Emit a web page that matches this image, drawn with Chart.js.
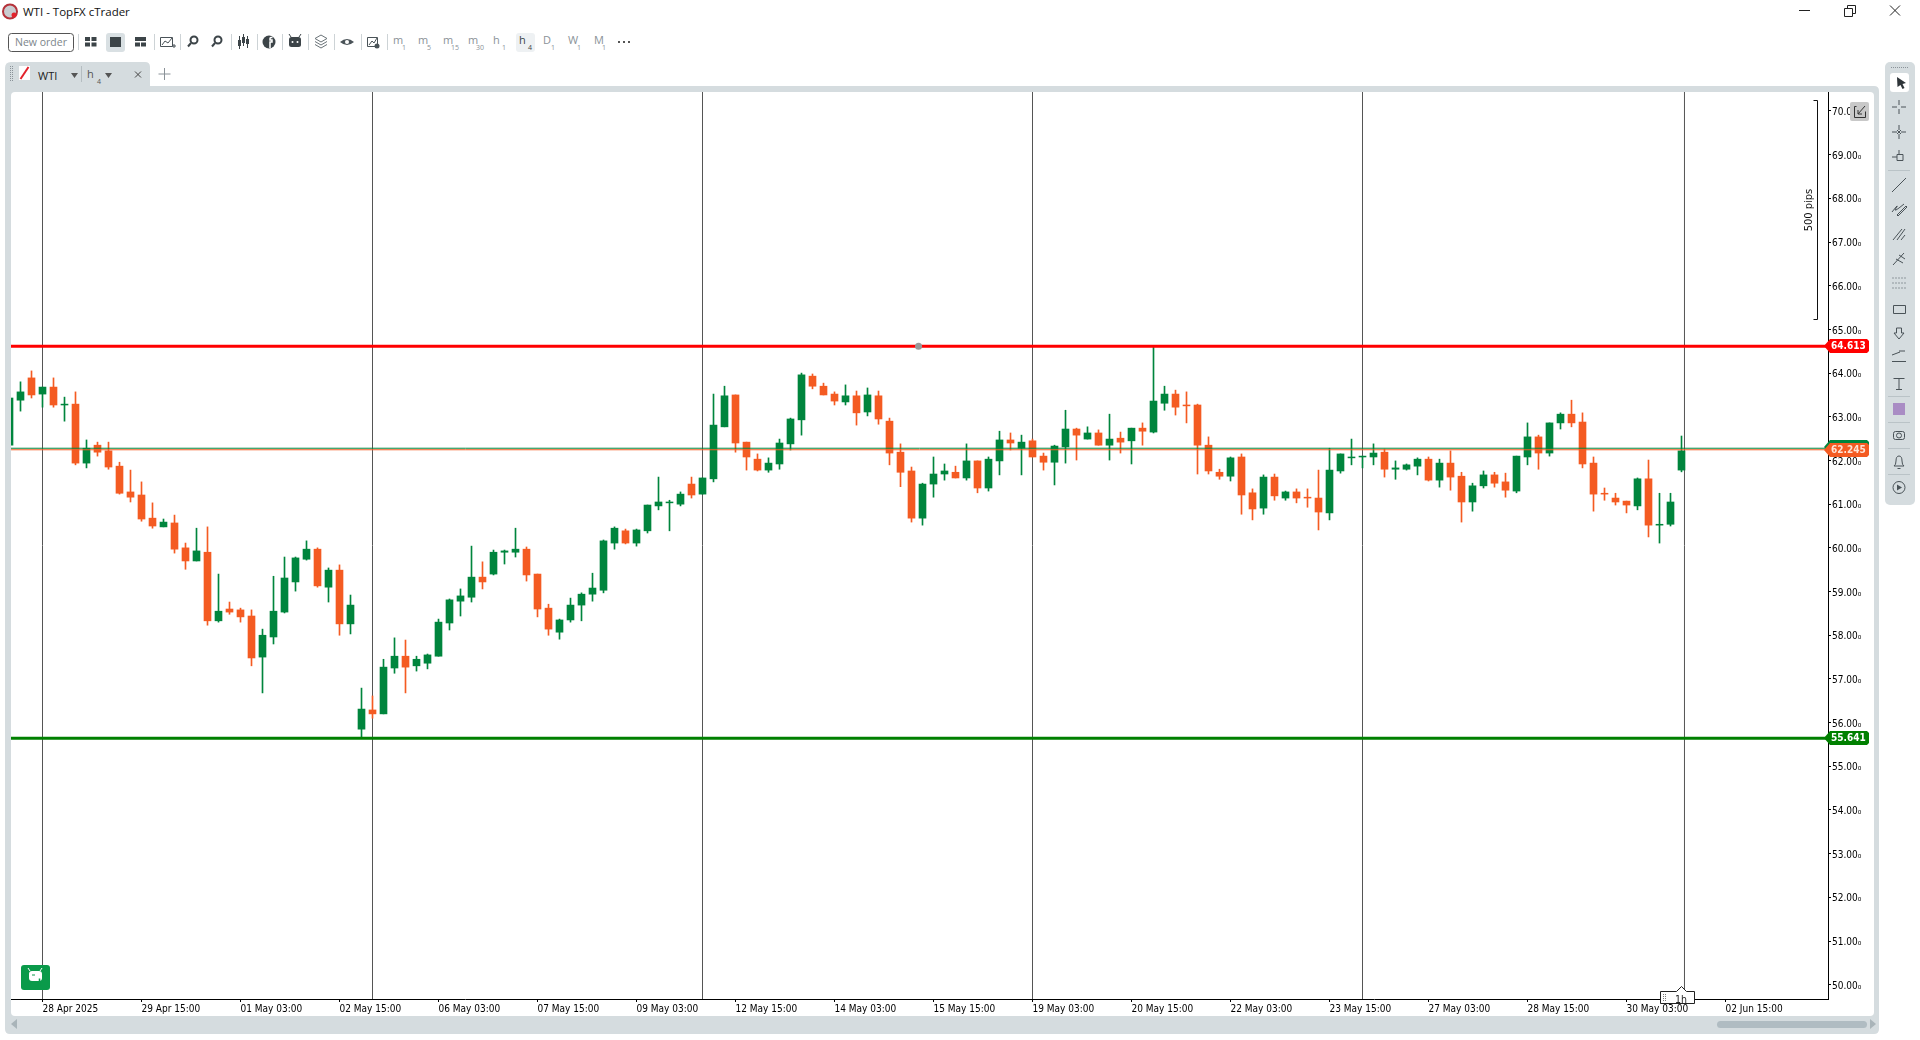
<!DOCTYPE html>
<html>
<head>
<meta charset="utf-8">
<title>WTI - TopFX cTrader</title>
<script src="https://cdn.jsdelivr.net/npm/chart.js@4"></script>
<style>
  html, body { margin: 0; padding: 0; background: #fff; overflow: hidden; }
  svg { position: absolute; left: 0; top: 0; }
  svg text { font-family: "Open Sans", sans-serif; }
  #myChart { position: absolute; left: 11px; top: 92px; }
  #over { pointer-events: none; }
</style>
</head>
<body>
<svg width="1920" height="1040">
  <!-- window title -->
  <circle cx="10" cy="11.5" r="7" fill="#c9ccd0" stroke="#b5323a" stroke-width="2"/>
  <circle cx="14" cy="15" r="2.5" fill="#e3222b"/>
  <text x="23" y="16" font-size="11.5" fill="#111">WTI - TopFX cTrader</text>
  <path d="M1799 10.5h11" stroke="#222"/>
  <path d="M1844.5 8.5h8v8h-8zM1847.5 8.5v-3h8v8h-3" fill="none" stroke="#222"/>
  <path d="M1890 5.5l10 10M1900 5.5l-10 10" stroke="#222"/>
  <!-- toolbar -->
  <rect x="8.5" y="33.5" width="65" height="18" rx="3" fill="#fff" stroke="#555"/>
  <text x="41" y="46" font-size="10.5" fill="#7c858a" text-anchor="middle">New order</text>
  <g stroke="#cdd3d6"><path d="M78.5 34v16M154.5 34v16M180.5 34v16M231.5 34v16M257.5 34v16M282.5 34v16M308.5 34v16M334.5 34v16M361.5 34v16M387.5 34v16"/></g>
  <path d="M85 37h5v4h-5zM91.500 37h5v4h-5zM85 42.500h5v4h-5zM91.500 42.500h5v4h-5z" fill="#3c4448"/>
  <rect x="106" y="33" width="19" height="19" rx="3" fill="#d9e0e3"/>
  <rect x="110" y="37" width="11" height="10" fill="#3c4448"/>
  <path d="M135 37h11v4h-11zM135 42.500h5v4h-5zM141 42.500h5v4h-5z" fill="#3c4448"/>
  <path d="M160.500 37.500h12v9h-12zM162 45l3-4 3 2 4-5" fill="none" stroke="#4a5358"/>
  <path d="M172 46h4M174 44v4" stroke="#4a5358"/>
  <circle cx="194" cy="40" r="3.500" fill="#fff" stroke="#3c4448" stroke-width="2"/><path d="M191 43l-3 3.500" stroke="#3c4448" stroke-width="2"/>
  <circle cx="218" cy="40" r="3.500" fill="#fff" stroke="#3c4448" stroke-width="2"/><path d="M215 43l-3 3.500" stroke="#3c4448" stroke-width="2"/>
  <path d="M239.500 36v13M243.500 34v12M247.500 36v12" stroke="#3c4448"/>
  <path d="M238 40h3v6h-3zM242 37h3v6h-3zM246 39h3v5h-3z" fill="#3c4448"/>
  <circle cx="269" cy="42" r="6.500" fill="#3c4448"/><path d="M270 48v-6h2v-2h-2v-1.500q0-1 1-1h1.500" fill="none" stroke="#fff" stroke-width="1.500"/>
  <rect x="289" y="37" width="12" height="10" rx="2.500" fill="#3c4448"/><path d="M291 37l-2-3M299 37l2-3" stroke="#3c4448"/><circle cx="292.500" cy="42" r="1" fill="#fff"/><circle cx="297.500" cy="42" r="1" fill="#fff"/>
  <path d="M321 35l6 3.500-6 3.500-6-3.500zM315 41.500l6 3.500 6-3.500M315 44.500l6 3.500 6-3.500" fill="none" stroke="#6a7378"/>
  <path d="M340 42q7-6 14 0q-7 6-14 0z" fill="#4a5358"/><circle cx="347" cy="42" r="2" fill="#fff"/>
  <path d="M367.500 37.500h10v9h-10zM369 45l3-4 2 2 3-5" fill="none" stroke="#4a5358"/><circle cx="377" cy="46" r="2.500" fill="#4a5358"/>
  <g font-size="11" fill="#8a9298">
    <text x="393" y="44">m</text><text x="418" y="44">m</text><text x="443" y="44">m</text><text x="468" y="44">m</text>
    <text x="493" y="44">h</text><text x="543" y="44">D</text><text x="568" y="44">W</text><text x="594" y="44">M</text>
  </g>
  <g font-size="7" fill="#8a9298">
    <text x="402" y="50">1</text><text x="427" y="50">5</text><text x="451" y="50">15</text><text x="476" y="50">30</text>
    <text x="502" y="50">1</text><text x="551" y="50">1</text><text x="577" y="50">1</text><text x="602" y="50">1</text>
  </g>
  <rect x="516" y="33" width="19" height="19" rx="3" fill="#eef1f3"/>
  <text x="519" y="44" font-size="11" fill="#3c4448">h</text><text x="528" y="50" font-size="7" fill="#3c4448">4</text>
  <path d="M618 42h2M623 42h2M628 42h2" stroke="#555" stroke-width="2"/>
  <!-- tab and panel -->
  <path d="M5 1029V68q0-6 6-6h134q5 0 5 5v19h1724q5 0 5 5v938q0 5-5 5H10q-5 0-5-5z" fill="#d5dcdf"/>
  <rect x="11" y="92" width="1863" height="924" rx="4" fill="#fff"/>
  <path d="M10.500 66v16M12.500 66v16" stroke="#8a9298" stroke-dasharray="1 1"/>
  <rect x="19" y="66" width="11" height="14" fill="#fff"/><path d="M20.500 79l8-12" stroke="#e3222b" stroke-width="2"/>
  <text x="38" y="80" font-size="11" fill="#222">WTI</text>
  <path d="M71 73h7l-3.500 5zM105 73h7l-3.500 5z" fill="#555"/>
  <path d="M81.500 66v16" stroke="#b5bdc1"/>
  <text x="87" y="78" font-size="11" fill="#555">h</text><text x="97" y="84" font-size="7" fill="#555">4</text>
  <path d="M135 71.500l6 6M141 71.500l-6 6" stroke="#444"/>
  <path d="M164.500 68v12M158.500 74h12" stroke="#8a9298"/>
  <!-- bottom scroll -->
  <path d="M17 1019v10l-6-5z" fill="#a9b4b9"/>
  <rect x="1717" y="1021" width="150" height="7" rx="3.500" fill="#b0bcc2"/>
  <path d="M1870 1019v10l6-5z" fill="#a9b4b9"/>
  <!-- right toolbar -->
  <rect x="1885" y="62" width="30" height="443" rx="5" fill="#d5dcdf"/>
  <path d="M1891 67.500h18" stroke="#8a9298" stroke-dasharray="1 1"/>
  <rect x="1890" y="73" width="19" height="19" rx="3" fill="#fff"/>
  <path d="M1897 77l9 6-3.500 1 2 4-2 1-2-4-3 2z" fill="#2e3438"/>
  <g fill="none" stroke="#4a5358">
    <path d="M1899 100v5M1899 109v5M1892 107h5M1901 107h5"/>
    <path d="M1899 125v5M1899 134v5M1892 132h5M1901 132h5M1897 130l4 4M1901 130l-4 4"/>
    <path d="M1899 150v5M1892 157h5M1897 154.500h6v6h-6z"/>
    <path d="M1892 192l14-14"/>
    <path d="M1892 212q8-10 4-4t8-4M1897 215l9-9 1 1-9 9z"/>
    <path d="M1893 240l9-11M1897 240l8-11M1901 240l4-5"/>
    <path d="M1893 265l11-12M1896 259l7 4M1899 255l6 4"/>
    <path d="M1892.500 278h13M1892.500 283h13M1892.500 288h13" stroke-dasharray="1 2"/>
    <path d="M1893.500 305.500h12v8h-12z"/>
    <path d="M1896.500 328h5v5h2.500l-5 6-5-6h2.500z"/>
    <path d="M1892 361.500h14M1892 355l8-3M1899 351h6"/>
    <path d="M1893.500 378.500h11M1899 378.500v11M1896 389.500h6"/>
    <rect x="1893.500" y="431.500" width="11" height="8" rx="2"/><circle cx="1899" cy="435.500" r="2.500"/>
    <path d="M1894 466q2-1 2-5q0-5 3-5t3 5q0 4 2 5zM1897.500 468.500h3"/>
    <circle cx="1899" cy="487.500" r="6"/>
  </g>
  <path d="M1897 484.500l5 3-5 3z" fill="#4a5358"/>
  <rect x="1893" y="403" width="12" height="12" fill="#a98cc4"/>
  <path d="M1888 170.500h22M1888 396.500h22M1888 422.500h22M1888 448.500h22M1888 474.500h22" stroke="#bac3c7"/>
</svg>
<canvas id="myChart" width="1863" height="924" style="width:1863px;height:924px"></canvas>
<svg id="over" width="1920" height="1040">
  <rect x="1850" y="102" width="19" height="19" rx="2" fill="#c8c8c8"/>
  <path d="M1856.500 106.500h-2v11h11v-6M1858 114l7-8M1858 110v4h4" fill="none" stroke="#333"/>
  <rect x="21" y="965" width="29" height="25" rx="3" fill="#0a9a4a"/>
  <path d="M30 971l-2-3M40 971l2-3" stroke="#fff"/>
  <rect x="29" y="971" width="13" height="10" rx="3" fill="#fff"/>
  <path d="M32 975h3" stroke="#0a9a4a"/><path d="M36 982h7M39.500 978.500v7" stroke="#0a9a4a" stroke-width="1.500"/>
  <path d="M1660.500 991.500h16l5-5 5 5h8v12h-34z" fill="#fff" stroke="#222"/>
  <path d="M1663.500 994v7M1665.500 994v7" stroke="#777" stroke-dasharray="1 1"/>
  <text x="1681" y="1002.500" font-size="10.500" fill="#222" text-anchor="middle" style="font-family:'DejaVu Sans Condensed','DejaVu Sans'">1h</text>
</svg>

<script>
// Candles, 4h bars
const opens = [
  62.35, 63.38, 63.89, 63.52, 63.68, 63.27, 63.29, 61.94, 62.35, 62.22,
  61.87, 61.28, 61.21, 60.68, 60.48, 60.57, 60.00, 59.70, 59.90, 58.33,
  58.60, 58.58, 58.44, 57.50, 57.96, 58.53, 59.22, 59.74, 59.97, 59.10,
  59.49, 58.26, 55.85, 56.29, 56.20, 57.25, 57.52, 57.30, 57.36, 57.52,
  58.28, 58.78, 58.87, 59.33, 59.40, 59.90, 59.90, 59.97, 59.40, 58.62,
  58.07, 58.35, 58.69, 58.94, 59.03, 60.11, 60.39, 60.11, 60.39, 60.96,
  61.03, 61.00, 61.46, 61.23, 61.58, 62.77, 63.50, 62.42, 62.03, 61.78,
  61.92, 62.38, 62.93, 63.93, 63.70, 63.52, 63.34, 63.48, 63.11, 63.48,
  62.90, 62.19, 61.76, 60.68, 61.46, 61.69, 61.73, 61.60, 61.99, 61.37,
  61.99, 62.47, 62.28, 62.45, 62.10, 61.96, 62.31, 62.72, 62.49, 62.63,
  62.35, 62.51, 62.45, 62.74, 62.65, 63.31, 63.52, 63.27, 63.27, 62.35,
  61.73, 61.64, 62.08, 61.26, 60.91, 61.62, 61.14, 61.28, 61.16, 61.14,
  60.80, 61.76, 62.06, 62.08, 62.08, 62.19, 61.80, 61.80, 61.87, 62.03,
  61.55, 61.94, 61.64, 61.05, 61.42, 61.67, 61.51, 61.30, 62.08, 62.54,
  62.17, 62.86, 63.06, 62.88, 61.94, 61.25, 61.14, 61.07, 60.96, 61.58,
  60.52, 60.54, 61.78,
];
const closes = [
  63.43, 63.57, 63.50, 63.68, 63.27, 63.29, 61.94, 62.28, 62.19, 61.85,
  61.25, 61.16, 60.66, 60.50, 60.59, 59.97, 59.70, 59.93, 58.33, 58.55,
  58.53, 58.42, 57.48, 58.00, 58.55, 59.31, 59.77, 59.97, 59.13, 59.49,
  58.26, 58.69, 56.31, 56.20, 57.27, 57.52, 57.27, 57.45, 57.55, 58.30,
  58.81, 58.90, 59.33, 59.22, 59.90, 59.93, 59.97, 59.38, 58.60, 58.14,
  58.35, 58.69, 58.94, 59.08, 60.16, 60.45, 60.11, 60.41, 60.98, 61.05,
  61.05, 61.23, 61.21, 61.60, 62.81, 63.48, 62.40, 62.08, 61.78, 61.94,
  62.40, 62.95, 63.96, 63.70, 63.50, 63.36, 63.48, 63.09, 63.50, 62.95,
  62.17, 61.73, 60.68, 61.46, 61.69, 61.76, 61.60, 61.99, 61.37, 62.03,
  62.47, 62.40, 62.42, 62.08, 61.96, 62.33, 62.72, 62.58, 62.63, 62.35,
  62.49, 62.42, 62.74, 62.67, 63.36, 63.52, 63.22, 63.25, 62.35, 61.76,
  61.64, 62.06, 61.21, 60.89, 61.62, 61.19, 61.28, 61.14, 61.14, 60.82,
  61.78, 62.15, 62.08, 62.10, 62.17, 61.80, 61.83, 61.90, 62.03, 61.55,
  61.94, 61.62, 61.05, 61.42, 61.67, 61.48, 61.32, 62.10, 62.54, 62.17,
  62.86, 63.06, 62.86, 61.92, 61.23, 61.23, 61.05, 60.98, 61.58, 60.52,
  60.54, 61.05, 62.22,
];
const highs = [
  63.43, 63.80, 64.05, 63.68, 63.89, 63.45, 63.57, 62.47, 62.42, 62.42,
  61.96, 61.78, 61.51, 61.03, 60.66, 60.75, 60.11, 60.45, 60.48, 59.40,
  58.76, 58.62, 58.58, 58.14, 59.35, 59.79, 59.79, 60.16, 60.00, 59.54,
  59.61, 58.92, 56.79, 56.61, 57.45, 57.94, 57.89, 57.52, 57.57, 58.37,
  58.83, 59.06, 60.04, 59.68, 59.95, 59.95, 60.45, 60.02, 59.40, 58.71,
  58.37, 58.85, 58.97, 59.42, 60.18, 60.48, 60.43, 60.43, 60.98, 61.62,
  61.09, 61.28, 61.62, 61.60, 63.52, 63.70, 63.50, 62.42, 62.15, 62.06,
  62.49, 62.97, 64.00, 63.98, 63.77, 63.57, 63.73, 63.59, 63.66, 63.59,
  62.97, 62.38, 61.85, 61.48, 62.08, 61.92, 61.87, 62.38, 61.99, 62.08,
  62.67, 62.63, 62.58, 62.49, 62.17, 62.35, 63.15, 62.74, 62.77, 62.70,
  63.06, 62.65, 62.74, 62.86, 64.60, 63.70, 63.61, 63.57, 63.29, 62.54,
  61.80, 62.08, 62.15, 61.35, 61.67, 61.69, 61.30, 61.35, 61.35, 61.78,
  62.28, 62.15, 62.49, 62.10, 62.38, 62.26, 61.99, 61.92, 62.06, 62.08,
  62.03, 62.22, 61.73, 61.48, 61.76, 61.73, 61.71, 62.10, 62.86, 62.58,
  62.86, 63.09, 63.38, 63.09, 62.08, 61.37, 61.25, 61.07, 61.60, 62.01,
  61.25, 61.25, 62.56,
];
const lows = [
  62.35, 63.13, 63.43, 63.22, 63.22, 62.90, 61.90, 61.83, 62.10, 61.80,
  61.23, 61.05, 60.61, 60.45, 60.48, 59.88, 59.51, 59.70, 58.23, 58.30,
  58.48, 58.30, 57.30, 56.68, 57.80, 58.51, 59.01, 59.72, 59.10, 58.76,
  58.00, 58.03, 55.64, 56.10, 56.20, 57.13, 56.68, 57.18, 57.23, 57.52,
  58.12, 58.44, 58.76, 59.06, 59.38, 59.63, 59.79, 59.24, 58.42, 58.00,
  57.91, 58.30, 58.33, 58.78, 58.97, 59.97, 60.09, 60.04, 60.34, 60.87,
  60.39, 60.96, 61.14, 61.23, 61.51, 62.77, 62.19, 61.78, 61.76, 61.73,
  61.80, 62.24, 62.58, 63.64, 63.50, 63.27, 63.27, 62.81, 63.02, 62.83,
  61.90, 61.40, 60.59, 60.52, 61.16, 61.55, 61.60, 61.55, 61.26, 61.30,
  61.67, 62.24, 61.67, 62.08, 61.78, 61.44, 61.94, 62.01, 62.49, 62.35,
  62.01, 62.17, 61.92, 62.35, 62.63, 63.15, 63.04, 62.86, 61.69, 61.69,
  61.57, 61.53, 60.77, 60.64, 60.77, 61.09, 61.09, 61.03, 60.93, 60.41,
  60.64, 61.71, 61.90, 61.83, 61.90, 61.62, 61.57, 61.78, 61.67, 61.53,
  61.39, 61.32, 60.59, 60.84, 61.37, 61.39, 61.16, 61.26, 61.90, 61.80,
  62.10, 62.72, 62.77, 61.83, 60.84, 61.09, 60.98, 60.80, 60.87, 60.25,
  60.11, 60.50, 61.74,
];

// Axis ticks
const timeTickIndex = [3, 12, 21, 30, 39, 48, 57, 66, 75, 84, 93, 102, 111, 120, 129, 138, 147, 156];
const timeTickLabels = [
  "28 Apr 2025", "29 Apr 15:00", "01 May 03:00", "02 May 15:00", "06 May 03:00", "07 May 15:00",
  "09 May 03:00", "12 May 15:00", "14 May 03:00", "15 May 15:00", "19 May 03:00", "20 May 15:00",
  "22 May 03:00", "23 May 15:00", "27 May 03:00", "28 May 15:00", "30 May 03:00", "02 Jun 15:00",
];
const priceTicks = [50, 51, 52, 53, 54, 55, 56, 57, 58, 59, 60, 61, 62, 63, 64, 65, 66, 67, 68, 69, 70];

// Lines on the chart
const periodLines = [3, 33, 63, 93, 123, 152.27];
const resistance = 64.613;
const support = 55.641;
const bid = 62.245;
const ask = 62.28;
const rulerTop = 70.24;
const rulerBottom = 65.24;
const handleIndex = 82.64;

const GREEN = "#00853d";
const ORANGE = "#f45b22";
const FONT = "'DejaVu Sans Condensed', 'DejaVu Sans', sans-serif";

const xMin = 0.13636;
const xMax = 165.318;
const yMin = 49.674;
const yMax = 70.434;

const candleColor = (i) => (closes[i] >= opens[i] ? GREEN : ORANGE);
const index = opens.map((_, i) => i);

const hLine = (value, color, width) => ({
  type: "line",
  data: [{ x: xMin, y: value }, { x: xMax, y: value }],
  borderColor: color,
  borderWidth: width,
  pointRadius: 0,
  order: 1,
});

const vLines = periodLines.map((v) => ({
  type: "line",
  data: [{ x: v, y: yMin }, { x: v, y: yMax }],
  borderColor: "#555555",
  borderWidth: 1,
  pointRadius: 0,
  order: 5,
}));

// Price tags, ruler and handle are drawn over the axes
const overlays = {
  id: "overlays",
  afterDraw(chart) {
    const { ctx, scales: { x, y } } = chart;
    const tag = (value, text, fill, textColor, dy) => {
      const py = Math.round(y.getPixelForValue(value)) + dy;
      const l = x.right;
      ctx.fillStyle = fill;
      ctx.beginPath();
      ctx.moveTo(l - 4, py);
      ctx.lineTo(l + 2, py - 7);
      ctx.lineTo(l + 39, py - 7);
      ctx.lineTo(l + 41, py - 5);
      ctx.lineTo(l + 41, py + 5);
      ctx.lineTo(l + 39, py + 7);
      ctx.lineTo(l + 2, py + 7);
      ctx.closePath();
      ctx.fill();
      if (text) {
        ctx.fillStyle = textColor;
        ctx.font = "bold 10px " + FONT;
        ctx.textAlign = "left";
        ctx.textBaseline = "middle";
        ctx.fillText(text, l + 3, py + 0.5);
      }
    };
    ctx.save();
    tag(resistance, resistance.toFixed(3), "#ff0000", "#ffffff", 0);
    tag(support, support.toFixed(3), "#008000", "#ffffff", 0);
    tag(ask, "", GREEN, "#fff", -1);
    tag(bid, bid.toFixed(3), ORANGE, "#ffe3d6", 0);

    // 500 pips ruler
    const top = Math.round(y.getPixelForValue(rulerTop)) + 0.5;
    const bottom = Math.round(y.getPixelForValue(rulerBottom)) + 0.5;
    const rx = x.right - 10.5;
    ctx.strokeStyle = "#111";
    ctx.lineWidth = 1;
    ctx.beginPath();
    ctx.moveTo(rx - 4, top);
    ctx.lineTo(rx, top);
    ctx.lineTo(rx, bottom);
    ctx.lineTo(rx - 4, bottom);
    ctx.stroke();
    ctx.translate(rx - 8, (top + bottom) / 2);
    ctx.rotate(-Math.PI / 2);
    ctx.fillStyle = "#111";
    ctx.font = "11px " + FONT;
    ctx.textAlign = "center";
    ctx.textBaseline = "middle";
    ctx.fillText("500 pips", 0, 0);
    ctx.restore();

    // drag handle on the red line
    ctx.fillStyle = "#999999";
    ctx.beginPath();
    ctx.arc(x.getPixelForValue(handleIndex), y.getPixelForValue(resistance), 3.5, 0, Math.PI * 2);
    ctx.fill();
  },
};

const noPadding = (scale) => {
  scale.paddingLeft = scale.paddingRight = scale.paddingTop = scale.paddingBottom = 0;
};

const ctx = document.getElementById("myChart").getContext("2d");

new Chart(ctx, {
  type: "bar",
  data: {
    datasets: [
      hLine(resistance, "#ff0000", 3),
      hLine(support, "#008000", 3),
      hLine(ask, GREEN, 1),
      hLine(bid, ORANGE, 1),
      ...vLines,
      {
        // bodies
        data: index.map((i) => ({ x: i, y: [opens[i], closes[i]] })),
        backgroundColor: (c) => candleColor(c.dataIndex),
        barThickness: 7,
        grouped: false,
        order: 2,
      },
      {
        // wicks
        data: index.map((i) => ({ x: i, y: [lows[i], highs[i]] })),
        backgroundColor: (c) => candleColor(c.dataIndex),
        barThickness: 1,
        grouped: false,
        order: 3,
      },
    ],
  },
  options: {
    responsive: false,
    animation: false,
    devicePixelRatio: 1,
    layout: { padding: 0, autoPadding: false },
    plugins: { legend: { display: false }, tooltip: { enabled: false } },
    scales: {
      x: {
        type: "linear",
        offset: false,
        min: xMin,
        max: xMax,
        afterBuildTicks: (scale) => { scale.ticks = timeTickIndex.map((v) => ({ value: v })); },
        afterFit: (scale) => { scale.height = 17; noPadding(scale); },
        ticks: {
          autoSkip: false,
          maxRotation: 0,
          align: "start",
          padding: 1,
          color: "#000",
          font: { family: FONT, size: 10 },
          callback: (value, i) => timeTickLabels[i],
        },
        grid: { drawOnChartArea: false, tickLength: 3, color: "#000", offset: false },
        border: { color: "#000", width: 1 },
      },
      y: {
        position: "right",
        min: yMin,
        max: yMax,
        afterBuildTicks: (scale) => { scale.ticks = priceTicks.map((v) => ({ value: v })); },
        afterFit: (scale) => { scale.width = 46; noPadding(scale); },
        ticks: {
          autoSkip: false,
          padding: 1,
          labelOffset: 1.5,
          color: "#000",
          font: { family: FONT, size: 10 },
          callback: (value) => value.toFixed(2) + "\u2080",
        },
        grid: { drawOnChartArea: false, tickLength: 3, color: "#000" },
        border: { color: "#000", width: 1 },
      },
    },
  },
  plugins: [overlays],
});
</script>
</body>
</html>
